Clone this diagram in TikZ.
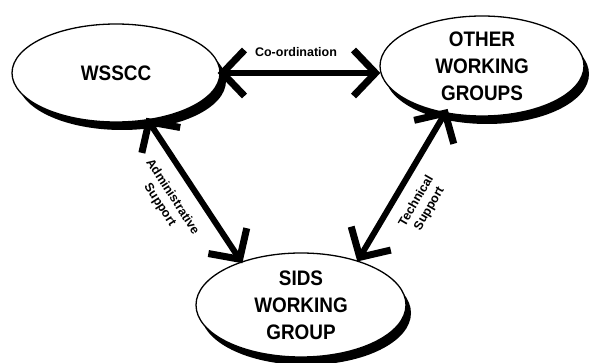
\documentclass[tikz,border=0pt]{standalone}
\usepackage{fontspec}
\setmainfont{Liberation Sans}
\newfontfamily\boxfont[FakeStretch=0.9]{Liberation Sans}
\usetikzlibrary{shapes.geometric,arrows.meta,shadows}
\begin{document}
\begin{tikzpicture}[x=1pt,y=-1pt,
  group/.style={ellipse, draw=black, line width=1.3pt, fill=white, inner sep=0pt,
    align=center, font=\boxfont\bfseries\fontsize{21}{27}\selectfont,
    drop shadow={shadow xshift=#1, shadow yshift=-8pt, fill=black, opacity=1}},
  group/.default=6pt,
  link/.style={line width=6pt,
    {Straight Barb[length=22pt,width=46pt,line width=7pt]}-{Straight Barb[length=22pt,width=46pt,line width=7pt]}},
  tag/.style={font=\bfseries\fontsize{12.5}{15}\selectfont, align=center, inner sep=0pt}]
\useasboundingbox (0,0) rectangle (592,363);
\fill[white] (0,0) rectangle (592,363);
\node[group, minimum width=208pt, minimum height=98pt] (wsscc) at (116,73) {WSSCC};
\node[group=5pt, minimum width=204pt, minimum height=100pt] (other) at (482,66) {OTHER\\WORKING\\GROUPS};
\node[group=5pt, minimum width=210pt, minimum height=104pt] (sids) at (301,305) {SIDS\\WORKING\\GROUP};
\draw[link, shorten <=-3pt, shorten >=-1pt] (wsscc.east) -- (other.west |- wsscc.east);
\draw[link, shorten <=-3pt, shorten >=-2pt] (wsscc.-56) -- (sids.144);
\draw[link, shorten <=-5pt, shorten >=-1pt] (other.232) -- (sids.38);
\node[tag, anchor=base] (coord) at (296,57) {Co-ordination};
\node[tag, rotate=-57] (admin) at (166,201) {Administrative\\Support};
\node[tag, rotate=60] (tech) at (423,205) {Technical\\Support};
\end{tikzpicture}
\end{document}
